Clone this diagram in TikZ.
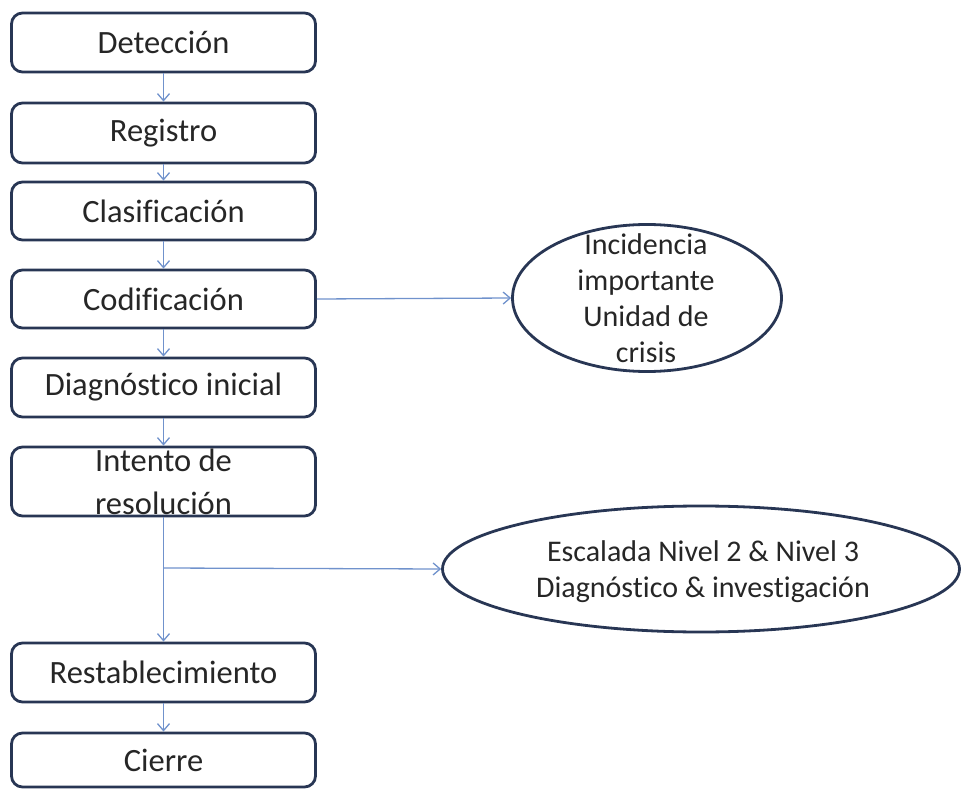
\documentclass[tikz,border=0pt]{standalone}
\usepackage{fontspec}
\setmainfont{Carlito}[Ligatures={NoCommon}]
\usetikzlibrary{arrows.meta,shapes.geometric}
\definecolor{boxline}{RGB}{40,54,84}
\definecolor{linkcol}{RGB}{112,146,204}
\definecolor{textcol}{RGB}{38,38,38}
\begin{document}
\begin{tikzpicture}[x=1pt,y=-1pt,
  stepbox/.style={draw=boxline, line width=2.8pt, rounded corners=11pt, fill=white,
    minimum width=304pt, inner sep=0pt, align=center, text=textcol,
    font=\fontsize{32.5}{43}\selectfont},
  oval/.style={ellipse, draw=boxline, line width=2.8pt, inner sep=0pt},
  ovaltext/.style={align=center, text=textcol, inner sep=0pt,
    font=\fontsize{30}{36}\selectfont},
  flow/.style={draw=linkcol, line width=1.3pt, -{Straight Barb[length=7pt,width=12pt]}}]
\useasboundingbox (0,0) rectangle (962,789);

% main column of steps
\node[stepbox, minimum height=59pt] (det)  at (163.5,42.5)  {Detección};
\node[stepbox, minimum height=60pt] (reg)  at (163.5,133)   {Registro};
\node[stepbox, minimum height=58pt] (cla)  at (163.5,211)   {Clasificación};
\node[stepbox, minimum height=58pt] (cod)  at (163.5,299)   {Codificación};
\node[stepbox, minimum height=59pt] (diag) at (163.5,387.5) {Diagnóstico inicial};
\node[stepbox, minimum height=69pt] (int)  at (163.5,481.5) {Intento de\\resolución};
\node[stepbox, minimum height=59pt] (rest) at (163.5,672.5) {Restablecimiento};
\node[stepbox, minimum height=54pt] (cie)  at (163.5,760)   {Cierre};

% side outcomes
\node[oval, minimum width=269pt, minimum height=147pt] (crisis) at (647,298) {};
\node[ovaltext] (crisistxt) at (646,298) {Incidencia\\importante\\Unidad de\\crisis};
\node[oval, minimum width=517pt, minimum height=126pt] (esc) at (701,569) {};
\node[ovaltext] (esctxt) at (703,572) {Escalada Nivel 2 \& Nivel 3\\Diagnóstico \& investigación};

% connectors
\draw[flow] (det) -- (reg);
\draw[flow] (reg) -- (cla);
\draw[flow] (cla) -- (cod);
\draw[flow] (cod) -- (diag);
\draw[flow] (diag) -- (int);
\draw[flow] (int) -- (rest);
\draw[flow] (rest) -- (cie);
\draw[flow] (cod.east) -- (crisis.west);
\coordinate (split) at (163.5,568);
\draw[flow] (split) -- (esc.west);
\end{tikzpicture}
\end{document}
